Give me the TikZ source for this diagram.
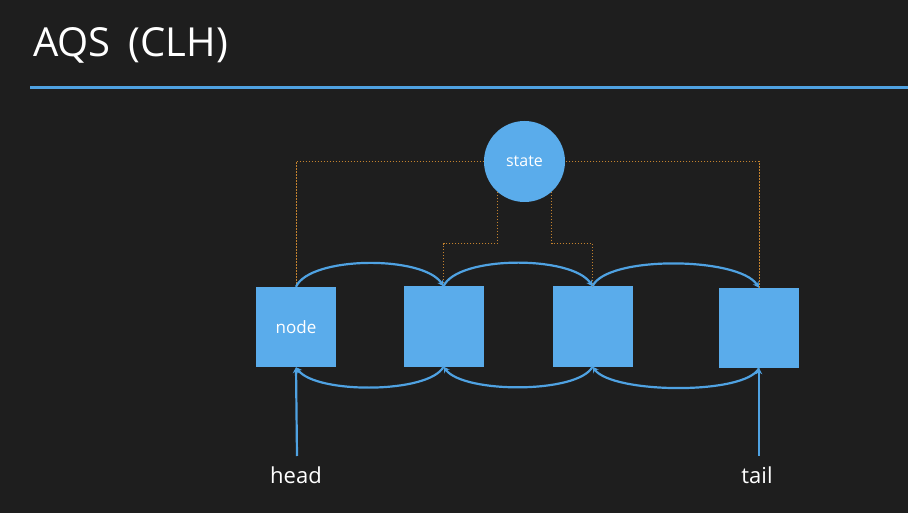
\documentclass[tikz,border=0pt]{standalone}
\usepackage{fontspec}
\setmainfont{Open Sans}
\usetikzlibrary{arrows.meta}
\definecolor{bg}{HTML}{1E1E1E}
\definecolor{boxblue}{HTML}{5AACEB}
\definecolor{lineblue}{HTML}{4FA2E2}
\definecolor{dotorange}{HTML}{C4822E}
\tikzset{
  qnode/.style={draw=none, fill=boxblue, minimum width=80pt, minimum height=80pt, inner sep=0pt, text=white, font=\fontsize{17}{20}\selectfont},
  statenode/.style={circle, fill=boxblue, minimum size=81pt, inner sep=0pt, text=white, font=\fontsize{16}{19}\selectfont},
  link/.style={draw=lineblue, line width=2.2pt, -{Stealth[length=6pt,width=6.5pt]}},
  dotline/.style={draw=dotorange, line width=1pt, dash pattern=on 1.5pt off 1.5pt},
  lbl/.style={text=white, font=\fontsize{22}{26}\selectfont, inner sep=0pt}
}
\begin{document}
\begin{tikzpicture}[x=1pt, y=-1pt]
\fill[bg] (0,0) rectangle (908,513);
\useasboundingbox (0,0) rectangle (908,513);
% title
\node[anchor=base west, text=white, font=\fontsize{40}{46}\selectfont, inner sep=0pt] (title) at (33,57) {AQS\hspace{18pt}(CLH)};
\coordinate (rulea) at (30,88);
\coordinate (ruleb) at (908,88);
\draw[lineblue, line width=3pt] (rulea) -- (ruleb);
% nodes
\node[statenode] (state) at (524.5,161.5) {state};
\node[qnode] (n1) at (296,327) {node};
\node[qnode] (n2) at (443.5,326.5) {};
\node[qnode] (n3) at (592.5,326.5) {};
\node[qnode] (n4) at (759,328) {};
% dotted links
\draw[dotline] (n1.north) |- (state.west);
\draw[dotline] (n4.north) |- (state.east);
\draw[dotline] (state.228) -- ++(0,52) -| (n2.north);
\draw[dotline] (state.312) -- ++(0,52) -| (n3.north);
% next links (top)
\draw[link] (n1.north) .. controls ++(14,-31) and ++(-20,-31) .. (n2.north);
\draw[link] (n2.north) .. controls ++(14,-31) and ++(-20,-31) .. (n3.north);
\draw[link] (n3.north) .. controls ++(14,-31) and ++(-20,-31) .. (n4.north);
% prev links (bottom)
\draw[link] (n2.south) .. controls ++(-14,27) and ++(20,27) .. (n1.south);
\draw[link] (n3.south) .. controls ++(-14,27) and ++(20,27) .. (n2.south);
\draw[link] (n4.south) .. controls ++(-14,27) and ++(20,27) .. (n3.south);
% head / tail
\node[lbl, anchor=base] (head) at (296,483) {head};
\node[lbl, anchor=base] (tail) at (757,483) {tail};
\coordinate (hd) at (297,456);
\coordinate (tl) at (759,456);
\draw[link] (hd) -- (n1.south);
\draw[link] (tl) -- (n4.south);
\end{tikzpicture}
\end{document}
